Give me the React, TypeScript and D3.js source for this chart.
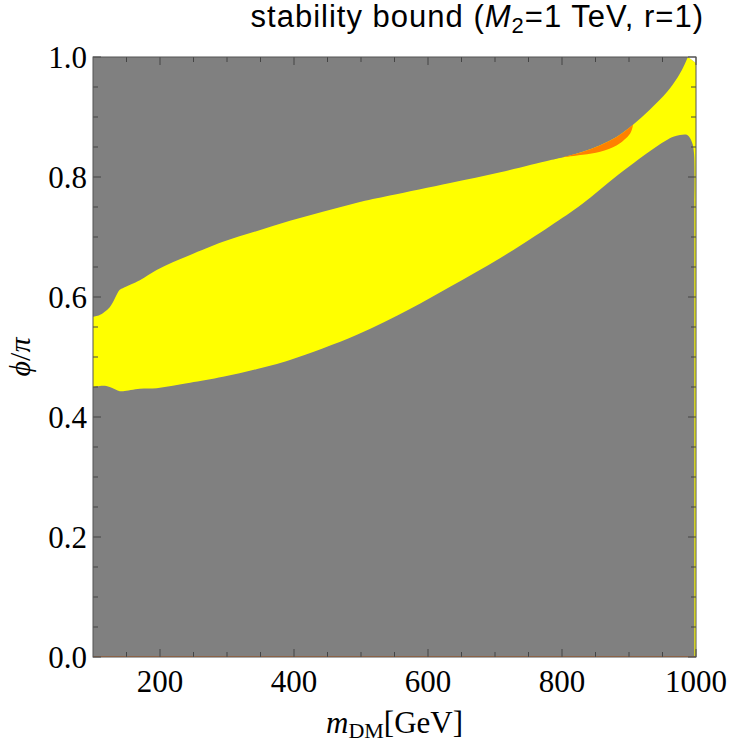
import React from "react";
import * as d3 from "d3";

// Upper edge of the allowed (yellow/orange) band, i.e. boundary of the upper grey region
const upperM = [100, 110, 125, 140, 145, 170, 195, 219, 245, 294, 345, 394, 443, 494, 543, 633, 708, 782, 802, 831, 857, 882, 906, 931, 957, 972, 981, 988];
const upperPhi = [0.567, 0.570, 0.583, 0.612, 0.615, 0.628, 0.645, 0.658, 0.670, 0.692, 0.710, 0.727, 0.742, 0.757, 0.769, 0.790, 0.808, 0.828, 0.833, 0.842, 0.853, 0.867, 0.887, 0.912, 0.942, 0.965, 0.983, 1.0];

// Lower edge of the yellow band (boundary of the lower grey region), including the spike at the right edge
const lowerM = [100, 115, 125, 140, 145, 170, 195, 219, 245, 294, 345, 394, 494, 573, 633, 708, 782, 830, 882, 931, 954, 966, 976, 987, 994, 997, 997.6];
const lowerPhi = [0.450, 0.452, 0.450, 0.443, 0.443, 0.447, 0.448, 0.452, 0.457, 0.467, 0.480, 0.495, 0.537, 0.580, 0.617, 0.665, 0.718, 0.755, 0.802, 0.843, 0.860, 0.867, 0.870, 0.870, 0.858, 0.840, 0.760];

// Lower edge of the orange sliver
const orangeM = [802, 831, 857, 882, 902, 906];
const orangePhi = [0.833, 0.837, 0.842, 0.853, 0.873, 0.887];

const xMajor = [200, 400, 600, 800, 1000];
const xMinor = [150, 250, 300, 350, 450, 500, 550, 650, 700, 750, 850, 900, 950];
const yMajor = [0, 0.2, 0.4, 0.6, 0.8, 1.0];
const yMinor = [0.05, 0.1, 0.15, 0.25, 0.3, 0.35, 0.45, 0.5, 0.55, 0.65, 0.7, 0.75, 0.85, 0.9, 0.95];

const W = 730, H = 745;
const L = 93, R = 696, T = 57, B = 657;

export default function App() {
  const x = d3.scaleLinear().domain([100, 1000]).range([L, R]);
  const y = d3.scaleLinear().domain([0, 1]).range([B, T]);

  const line = d3.line<[number, number]>()
    .x((d) => x(d[0]))
    .y((d) => y(d[1]))
    .curve(d3.curveCatmullRom.alpha(0.5));

  const upperPts: [number, number][] = upperM.map((m, i) => [m, upperPhi[i]]);
  const lowerPts: [number, number][] = lowerM.map((m, i) => [m, lowerPhi[i]]);

  const upperPath = line(upperPts) || "";
  const lowerRevPath = (line([...lowerPts].reverse()) || "").replace(/^M/, "L");

  const yellowPath =
    upperPath +
    `L${x(1000)},${y(0.99)}L${x(1000)},${y(0)}L${x(997.6)},${y(0)}` +
    `L${x(997.6)},${y(0.76)}` +
    lowerRevPath +
    "Z";

  const orangeTop: [number, number][] = upperPts.filter((p) => p[0] >= 802 && p[0] <= 906);
  const orangeBot: [number, number][] = orangeM.map((m, i) => [m, orangePhi[i]]);
  const orangePath =
    (line(orangeTop) || "") +
    (line([...orangeBot].reverse()) || "").replace(/^M/, "L") +
    "Z";

  const notch = `M${x(988)},${y(1)}L${x(1000)},${y(1)}L${x(1000)},${y(0.99)}Z`;

  const majLen = 8, minLen = 5;
  const tickColor = "#444";

  return (
    <svg width={W} height={H} style={{ position: "absolute", left: 0, top: 0, background: "#fff" }}>
      <rect x={L} y={T} width={R - L} height={B - T} fill="#808080" />
      <path d={yellowPath} fill="#ffff00" />
      <path d={orangePath} fill="#ff8000" />
      <path d={notch} fill="#ffffff" />
      <line x1={L} x2={R} y1={B - 0.5} y2={B - 0.5} stroke="#c0703a" strokeWidth={1} />

      {/* ticks */}
      {xMajor.map((v) => (
        <g key={"xM" + v}>
          <line x1={x(v)} x2={x(v)} y1={B} y2={B - majLen} stroke={tickColor} />
          <line x1={x(v)} x2={x(v)} y1={T} y2={T + majLen} stroke={tickColor} />
        </g>
      ))}
      {xMinor.map((v) => (
        <g key={"xm" + v}>
          <line x1={x(v)} x2={x(v)} y1={B} y2={B - minLen} stroke={tickColor} />
          <line x1={x(v)} x2={x(v)} y1={T} y2={T + minLen} stroke={tickColor} />
        </g>
      ))}
      {yMajor.map((v) => (
        <g key={"yM" + v}>
          <line x1={L} x2={L + majLen} y1={y(v)} y2={y(v)} stroke={tickColor} />
          <line x1={R} x2={R - majLen} y1={y(v)} y2={y(v)} stroke={tickColor} />
        </g>
      ))}
      {yMinor.map((v) => (
        <g key={"ym" + v}>
          <line x1={L} x2={L + minLen} y1={y(v)} y2={y(v)} stroke={tickColor} />
          <line x1={R} x2={R - minLen} y1={y(v)} y2={y(v)} stroke={tickColor} />
        </g>
      ))}

      <rect x={L} y={T} width={R - L} height={B - T} fill="none" stroke="#555" strokeWidth={1} />

      {/* tick labels */}
      {xMajor.map((v) => (
        <text key={"xl" + v} x={x(v)} y={692} textAnchor="middle" fontFamily="'Liberation Serif', serif" fontSize={31} fill="#000">
          {String(v)}
        </text>
      ))}
      {yMajor.map((v) => (
        <text key={"yl" + v} x={87} y={y(v)} dy="0.35em" textAnchor="end" fontFamily="'Liberation Serif', serif" fontSize={31} fill="#000">
          {v.toFixed(1)}
        </text>
      ))}

      {/* axis labels */}
      <text x={(L + R) / 2} y={733} textAnchor="middle" fontFamily="'Liberation Serif', serif" fontSize={31} fill="#000">
        <tspan fontStyle="italic">m</tspan>
        <tspan fontSize={22} dy={5}>DM</tspan>
        <tspan dy={-5}>[GeV]</tspan>
      </text>
      <text transform={`translate(30,${(T + B) / 2}) rotate(-90)`} textAnchor="middle" fontFamily="'Liberation Serif', serif" fontSize={30} fill="#000">
        <tspan fontStyle="italic">ϕ</tspan>
        <tspan>/</tspan>
        <tspan fontStyle="italic">π</tspan>
      </text>

      {/* title */}
      <text x={704} y={27} textAnchor="end" fontFamily="'Liberation Sans', Arial, sans-serif" fontSize={31} letterSpacing={1} fill="#000">
        <tspan>stability bound (</tspan>
        <tspan fontStyle="italic">M</tspan>
        <tspan fontSize={22} dy={6}>2</tspan>
        <tspan dy={-6}>=1 TeV, r=1)</tspan>
      </text>
    </svg>
  );
}
